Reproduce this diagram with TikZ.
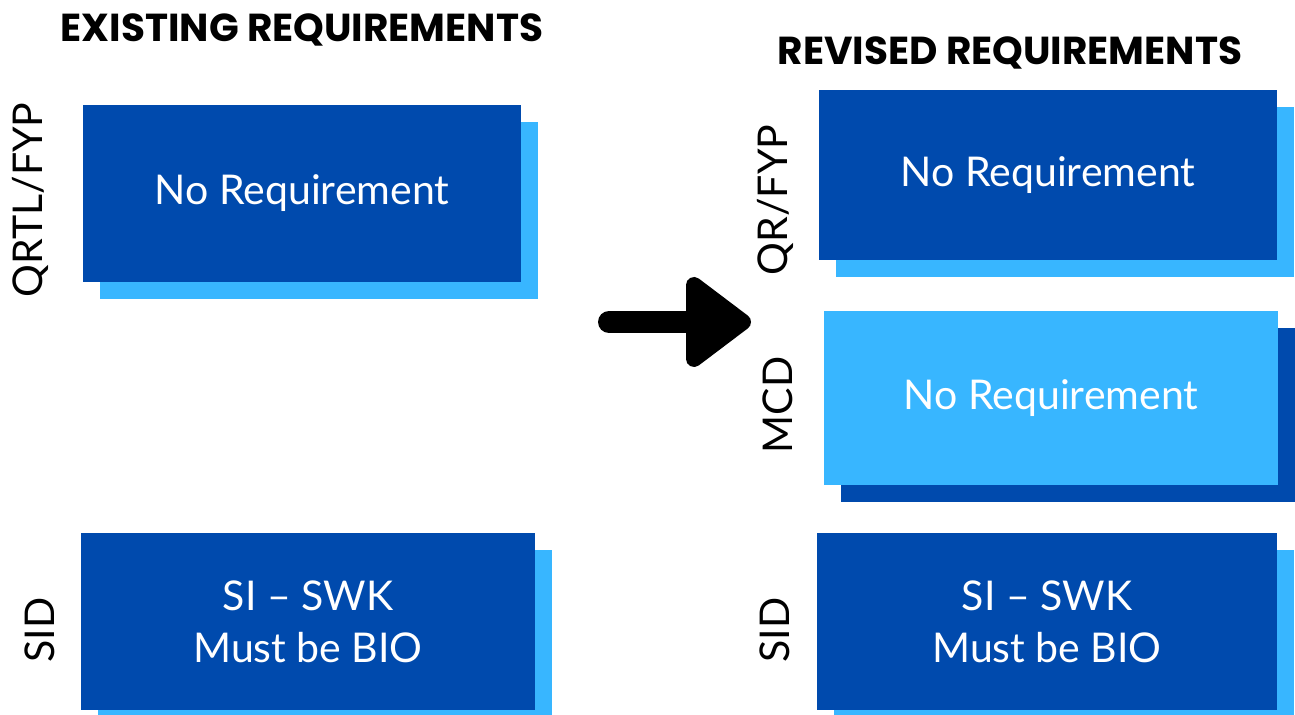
\documentclass[tikz,border=0pt]{standalone}
\usepackage{fontspec}
\setmainfont{Lato}
\newfontfamily\titlefont{Poppins}
\usetikzlibrary{shadows}

\definecolor{darkblue}{RGB}{0,74,173}
\definecolor{lightblue}{RGB}{56,182,255}

\begin{document}
\begin{tikzpicture}[
        x=0.5pt, y=-0.5pt,
        font=\fontsize{20.5}{26}\selectfont,
        req_box/.style={
            fill=#1,
            text=white,
            align=center,
            inner sep=0pt
        },
        back_dark/.style={
            drop shadow={shadow xshift=8.5pt, shadow yshift=-8.5pt, fill=darkblue, opacity=1}
        },
        back_light/.style={
            drop shadow={shadow xshift=8.5pt, shadow yshift=-8.5pt, fill=lightblue, opacity=1}
        },
        side_label/.style={
            rotate=90,
            inner sep=0pt
        },
        title_label/.style={
            font=\titlefont\bfseries\fontsize{19.5}{22}\selectfont,
            inner sep=0pt
        }
    ]
        \useasboundingbox (0,0) rectangle (1295,715);

        \node[title_label] (oldtitle) at (302, 30) {EXISTING REQUIREMENTS};
        \node[title_label] (newtitle) at (1010, 53) {REVISED REQUIREMENTS};

        % existing
        \node[req_box=darkblue, back_light, minimum width=219pt, minimum height=88.5pt] (oldfyp) at (302, 193.5) {No Requirement};
        \node[req_box=darkblue, back_light, minimum width=227pt, minimum height=88.5pt] (oldsid) at (308, 621.5) {SI -- SWK\\Must be BIO};

        % revised
        \node[req_box=darkblue, back_light, minimum width=229pt, minimum height=85pt] (newfyp) at (1048, 175) {No Requirement};
        \node[req_box=lightblue, back_dark, minimum width=227pt, minimum height=87pt] (newmcd) at (1051, 398) {No Requirement};
        \node[req_box=darkblue, back_light, minimum width=230pt, minimum height=88.5pt] (newsid) at (1047, 621.5) {SI -- SWK\\Must be BIO};

        \node[side_label] (oldfyplab) at (30, 200) {QRTL/FYP};
        \node[side_label] (oldsidlab) at (40, 630) {SID};
        \node[side_label] (newfyplab) at (775, 200) {QR/FYP};
        \node[side_label] (newmcdlab) at (778, 405) {MCD};
        \node[side_label] (newsidlab) at (775, 630) {SID};

        % arrow
        \coordinate (arrowtail) at (609, 322);
        \coordinate (arrowhead) at (700, 322);
        \draw[line width=11pt, line cap=round] (arrowtail) -- (arrowhead);
        \filldraw[line width=8pt, line join=round]
            (694, 285) -- (743, 322) -- (694, 359) -- cycle;
    \end{tikzpicture}
\end{document}
